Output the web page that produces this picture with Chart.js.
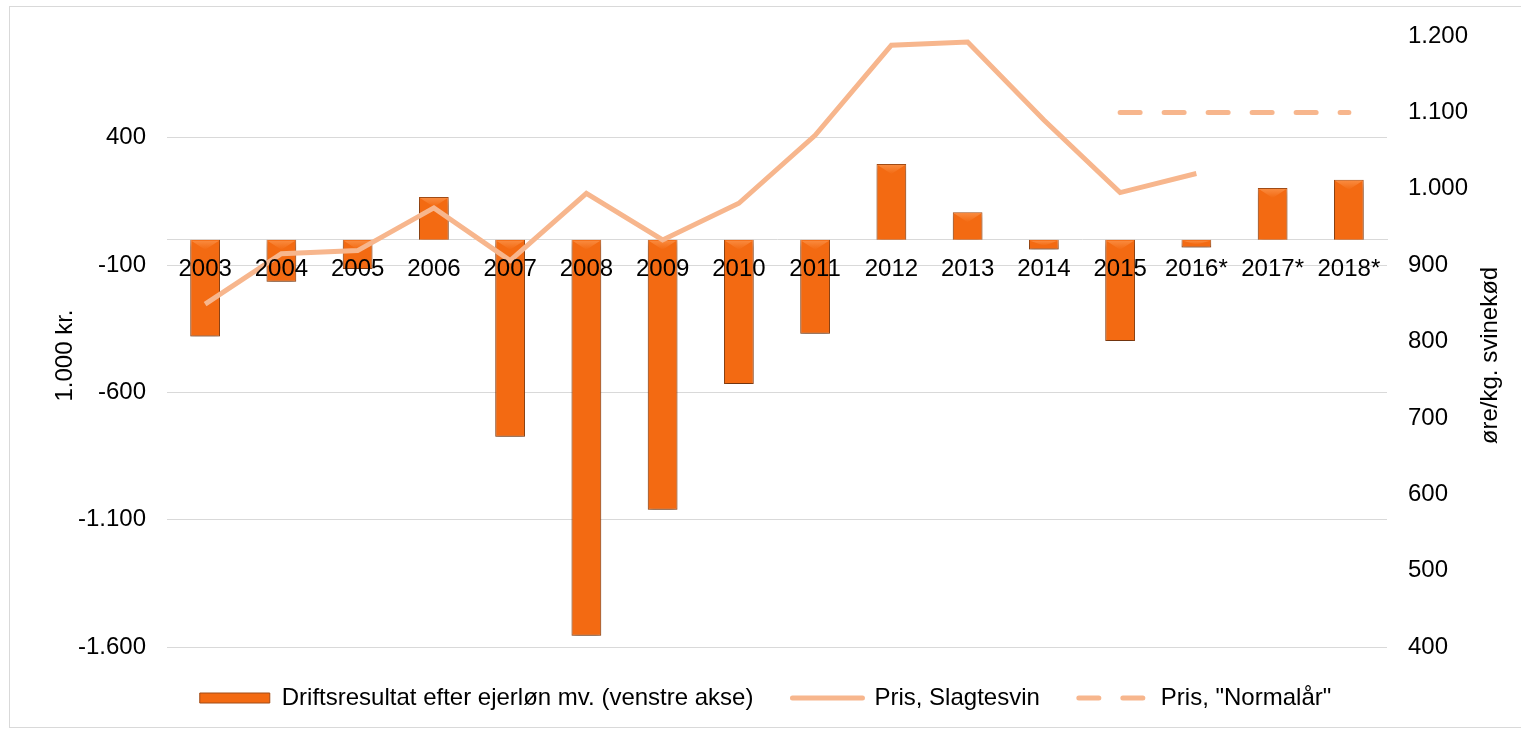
<!DOCTYPE html>
<html>
<head>
<meta charset="utf-8">
<script src="https://cdn.jsdelivr.net/npm/chart.js@4/dist/chart.umd.min.js"></script>
<style>
  html, body { margin: 0; padding: 0; background: #fff; overflow: hidden; }
  #frame {
    position: absolute; left: 9px; top: 6px;
    width: 1514px; height: 720px;
    border: 1px solid #d9d9d9;
  }
  canvas { display: block; }
</style>
</head>
<body>
<div id="frame"><canvas id="chart" width="1511" height="720"></canvas></div>
<script>
// data
const years = ['2003', '2004', '2005', '2006', '2007', '2008', '2009', '2010',
               '2011', '2012', '2013', '2014', '2015', '2016*', '2017*', '2018*'];

// 1.000 kr. (left axis)
const driftsresultat = [-380, -165, -115, 168, -774, -1556, -1061, -567,
                        -370, 297, 108, -39, -398, -31, 203, 235];

// øre/kg. svinekød (right axis)
const prisSlagtesvin = [849, 915, 919, 975, 906, 994, 933, 981,
                        1070, 1188, 1192, 1090, 995, 1020, null, null];
const prisNormalaar = [null, null, null, null, null, null, null, null,
                       null, null, null, null, 1100, 1100, 1100, 1100];

const leftTicks = [-1600, -1100, -600, -100, 400];

const FONT = "'Liberation Sans', Arial, sans-serif";
const ORANGE = '#F36A12';
const PEACH = '#F7B68D';

// danish thousands separator: 1.200, -1.100
function fmt(v) {
  const s = Math.abs(v).toString().replace(/\B(?=(\d{3})+(?!\d))/g, '.');
  return (v < 0 ? '-' : '') + s;
}

// -----------------------------------------------------------------------------
// bar shadow + top bevel, and the two rotated axis titles
// -----------------------------------------------------------------------------
const barLook = {
  id: 'barLook',
  beforeDatasetDraw(chart, args) {
    if (args.index !== 0) return;
    const ctx = chart.ctx;
    ctx.save();
    ctx.shadowColor = 'rgba(0,0,0,0.35)';
    ctx.shadowBlur = 5;
    ctx.shadowOffsetY = 4;
  },
  afterDatasetDraw(chart, args) {
    if (args.index !== 0) return;
    const ctx = chart.ctx;
    ctx.restore();
    ctx.save();
    args.meta.data.forEach(el => {
      const { x, y, base, width } = el.getProps(['x', 'y', 'base', 'width'], true);
      const top = Math.min(y, base) + 1;
      const h = Math.min(9, Math.abs(base - y) / 2);
      const l = x - width / 2 + 1, r = x + width / 2 - 1;
      const g = ctx.createLinearGradient(0, top, 0, top + h);
      g.addColorStop(0, '#F98A3E');
      g.addColorStop(1, ORANGE);
      ctx.fillStyle = g;
      ctx.beginPath();
      ctx.moveTo(l, top);
      ctx.lineTo(r, top);
      ctx.lineTo(x, top + h);
      ctx.closePath();
      ctx.fill();
    });
    ctx.restore();
  }
};

const axisTitles = {
  id: 'axisTitles',
  afterDraw(chart) {
    const ctx = chart.ctx;
    const cy = (chart.chartArea.top + chart.chartArea.bottom) / 2 + 14;
    ctx.save();
    ctx.font = '24px ' + FONT;
    ctx.fillStyle = '#000';
    ctx.textAlign = 'center';
    ctx.textBaseline = 'alphabetic';
    [[chart.scales.y.left + 62, '1.000 kr.'],
     [chart.scales.y1.right - 24, 'øre/kg. svinekød']].forEach(([x, text]) => {
      ctx.save();
      ctx.translate(x, cy);
      ctx.rotate(-Math.PI / 2);
      ctx.fillText(text, 0, 0);
      ctx.restore();
    });
    ctx.restore();
  }
};

// fixed axis widths, no extra label overhang on top/bottom
function fixAxis(width) {
  return scale => {
    scale.width = width;
    scale.paddingTop = 0;
    scale.paddingBottom = 0;
  };
}

// -----------------------------------------------------------------------------
// CHART
// -----------------------------------------------------------------------------
new Chart(document.getElementById('chart'), {
  type: 'bar',
  data: {
    labels: years,
    datasets: [
      {
        type: 'bar',
        label: 'Driftsresultat efter ejerløn mv. (venstre akse)',
        data: driftsresultat,
        yAxisID: 'y',
        backgroundColor: ORANGE,
        borderColor: '#A24C16',
        borderWidth: 1,
        barPercentage: 0.39,
        categoryPercentage: 1,
        order: 2
      },
      {
        type: 'line',
        label: 'Pris, Slagtesvin',
        data: prisSlagtesvin,
        yAxisID: 'y1',
        borderColor: PEACH,
        backgroundColor: PEACH,
        borderWidth: 5,
        pointRadius: 0,
        tension: 0,
        order: 1
      },
      {
        type: 'line',
        label: 'Pris, "Normalår"',
        data: prisNormalaar,
        yAxisID: 'y1',
        borderColor: PEACH,
        backgroundColor: PEACH,
        borderWidth: 5,
        borderDash: [20, 24],
        borderCapStyle: 'round',
        pointRadius: 0,
        tension: 0,
        order: 1
      }
    ]
  },
  options: {
    responsive: false,
    animation: false,
    layout: { padding: { top: 29, bottom: 7, left: 0, right: 0 } },
    plugins: {
      legend: {
        position: 'bottom',
        labels: {
          font: { family: FONT, size: 24 },
          color: '#000',
          padding: 39,
          usePointStyle: true,
          pointStyleWidth: 70,
          boxHeight: 10,
          sort: (a, b) => a.datasetIndex - b.datasetIndex,
          generateLabels(chart) {
            return Chart.defaults.plugins.legend.labels.generateLabels(chart).map(item => {
              const ds = chart.data.datasets[item.datasetIndex];
              if (ds.type === 'line') {
                item.pointStyle = 'line';
                item.lineWidth = 5;
                item.lineCap = 'round';
                item.lineDash = ds.borderDash || [];
              } else {
                item.pointStyle = 'rect';
                item.lineWidth = 1;
              }
              return item;
            });
          }
        }
      },
      tooltip: { enabled: false }
    },
    scales: {
      x: {
        position: { y: 0 },
        grid: { display: false, drawTicks: false },
        border: { display: true, color: '#d9d9d9', width: 1 },
        ticks: {
          z: 1,
          font: { family: FONT, size: 24 },
          color: '#000',
          padding: 15,
          maxRotation: 0,
          autoSkip: false
        }
      },
      y: {
        position: 'left',
        min: -1600,
        max: 800,
        afterBuildTicks: scale => { scale.ticks = leftTicks.map(v => ({ value: v })); },
        afterFit: fixAxis(157),
        grid: { color: '#d9d9d9', lineWidth: 1, drawTicks: false },
        border: { display: false },
        ticks: {
          font: { family: FONT, size: 24 },
          color: '#000',
          padding: 21,
          callback: v => fmt(v)
        }
      },
      y1: {
        position: 'right',
        min: 400,
        max: 1200,
        afterFit: fixAxis(134),
        grid: { display: false, drawTicks: false },
        border: { display: false },
        ticks: {
          stepSize: 100,
          font: { family: FONT, size: 24 },
          color: '#000',
          padding: 21,
          callback: v => fmt(v)
        }
      }
    }
  },
  plugins: [barLook, axisTitles]
});
</script>
</body>
</html>
